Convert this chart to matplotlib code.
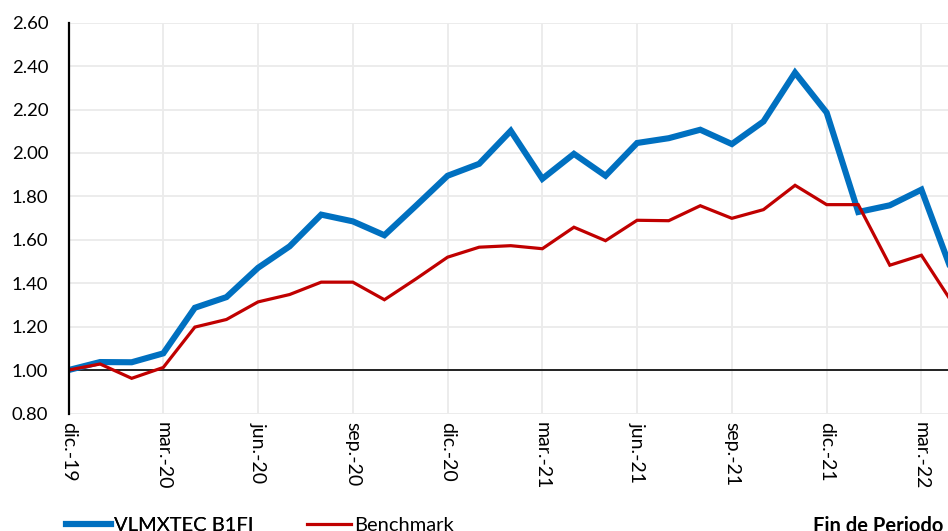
import matplotlib
matplotlib.use("Agg")
import matplotlib.pyplot as plt

plt.rcParams['font.family'] = ['Lato', 'DejaVu Sans']

# monthly index, dic-19 .. abr-22
months = list(range(29))
fund = [1.00, 1.037, 1.036, 1.077, 1.287, 1.336, 1.471, 1.570, 1.716, 1.685,
        1.621, 1.757, 1.895, 1.950, 2.102, 1.881, 1.996, 1.895, 2.046, 2.068,
        2.107, 2.041, 2.145, 2.370, 2.186, 1.728, 1.759, 1.831, 1.44]
bench = [1.00, 1.028, 0.962, 1.012, 1.198, 1.233, 1.314, 1.348, 1.405, 1.405,
         1.324, 1.420, 1.520, 1.566, 1.573, 1.559, 1.658, 1.596, 1.690, 1.688,
         1.757, 1.699, 1.739, 1.851, 1.762, 1.762, 1.483, 1.529, 1.305]
tick_pos = [0, 3, 6, 9, 12, 15, 18, 21, 24, 27]
tick_labels = ['dic.-19', 'mar.-20', 'jun.-20', 'sep.-20', 'dic.-20',
               'mar.-21', 'jun.-21', 'sep.-21', 'dic.-21', 'mar.-22']
yticks = [0.8, 1.0, 1.2, 1.4, 1.6, 1.8, 2.0, 2.2, 2.4, 2.6]

W, H = 948, 531
fig = plt.figure(figsize=(W / 100, H / 100), dpi=100)
left, right, top, bottom = 68.5, 953.0, 22.7, 413.5
ax = fig.add_axes([left / W, (H - bottom) / H, (right - left) / W, (bottom - top) / H])

ax.set_xlim(0, 28)
ax.set_ylim(0.8, 2.6)
ax.set_yticks(yticks)
ax.set_yticklabels([f"{v:.2f}" for v in yticks])
ax.set_xticks(tick_pos)
ax.set_xticklabels(tick_labels, rotation=-90, ha='center', va='top')
ax.tick_params(axis='both', length=0, colors='black')
ax.tick_params(axis='y', pad=14.5, labelsize=13.3)
ax.tick_params(axis='x', pad=6, labelsize=14)

ax.grid(True, color='#ebebeb', linewidth=1.3)
ax.set_axisbelow(True)
for s in ['top', 'right', 'bottom']:
    ax.spines[s].set_visible(False)
ax.spines['left'].set_linewidth(1.6)
ax.spines['left'].set_color('black')
ax.spines['left'].set_zorder(4)

ax.axhline(1.0, color='black', linewidth=1.2, zorder=2)

l1, = ax.plot(months, fund, color='#0070C0', linewidth=4.4, zorder=3,
              solid_joinstyle='miter', label='VLMXTEC B1FI')
l2, = ax.plot(months, bench, color='#C00000', linewidth=2.3, zorder=3,
              solid_joinstyle='miter', label='Benchmark')

leg1 = fig.legend(handles=[l1], loc='center left', bbox_to_anchor=(66 / W, 6 / H),
                  frameon=False, fontsize=14.5, handlelength=2.25, handletextpad=0.15,
                  borderpad=0, borderaxespad=0)
leg2 = fig.legend(handles=[l2], loc='center left', bbox_to_anchor=(307 / W, 6 / H),
                  frameon=False, fontsize=14.5, handlelength=2.2, handletextpad=0.15,
                  borderpad=0, borderaxespad=0)
fig.add_artist(leg1)

fig.text(813 / W, -1 / H, 'Fin de Periodo', fontsize=14.5, fontweight='bold',
         ha='left', va='baseline')

fig.savefig('out.png', dpi=100)
